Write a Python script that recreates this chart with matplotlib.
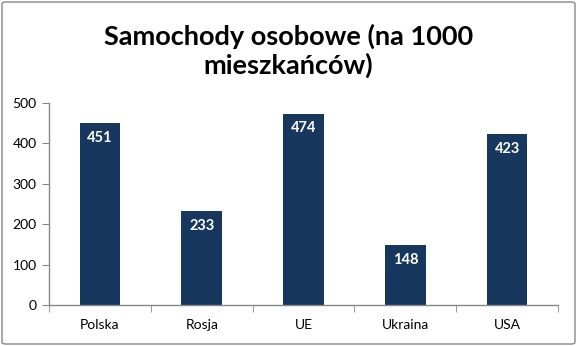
import matplotlib.pyplot as plt
from matplotlib.patches import FancyBboxPatch

categories = ['Polska', 'Rosja', 'UE', 'Ukraina', 'USA']
values = [451, 233, 474, 148, 423]
yticks = [0, 100, 200, 300, 400, 500]

plt.rcParams['font.family'] = ['Lato', 'DejaVu Sans']

fig = plt.figure(figsize=(5.77, 3.46), dpi=100)
ax = fig.add_axes([49/577, 1-305/346, (558-49)/577, (305-103)/346])

x = list(range(len(categories)))
bars = ax.bar(x, values, width=0.4, color='#17375E', zorder=2)
for xi, v in zip(x, values):
    ax.text(xi, v - 37, str(v), ha='center', va='center', color='white',
            fontsize=10.5, fontweight='bold')

ax.set_xlim(-0.5, len(categories) - 0.5)
ax.set_ylim(0, 500)
ax.set_yticks(yticks)
ax.set_xticks(x)
ax.set_xticklabels(categories, fontsize=10)
ax.set_xticks([i - 0.5 for i in range(len(categories) + 1)], minor=True)
ax.tick_params(axis='x', which='major', length=0, pad=10)
ax.tick_params(axis='x', which='minor', length=5, color='#868686', direction='out')
ax.tick_params(axis='y', length=5, color='#868686', labelsize=10, pad=4)
for s in ['top', 'right']:
    ax.spines[s].set_visible(False)
for s in ['left', 'bottom']:
    ax.spines[s].set_color('#868686')
    ax.spines[s].set_linewidth(1)

fig.text(0.5, 1 - 51/346, 'Samochody osobowe (na 1000\nmieszkańców)', ha='center', va='center',
         fontsize=19.5, fontweight='bold', linespacing=1.15)

border = FancyBboxPatch((2/577, 2/346), 1 - 4/577, 1 - 4/346,
                        boxstyle='round,pad=0,rounding_size=0.006',
                        transform=fig.transFigure, fill=False,
                        edgecolor='#868686', linewidth=1)
fig.patches.append(border)

fig.savefig('out.png', dpi=100)
